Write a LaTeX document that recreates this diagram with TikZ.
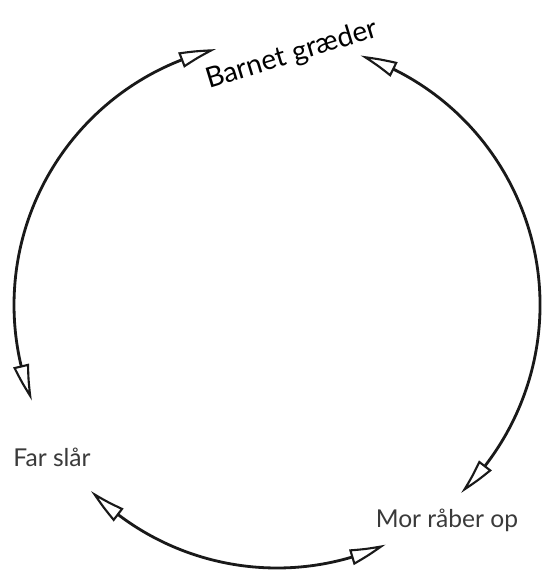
\documentclass[tikz,border=0pt]{standalone}
\usepackage{fontspec}
\setmainfont{Lato}
\usetikzlibrary{arrows.meta, bending}
\definecolor{tekst}{HTML}{3A3A3A}
\tikzset{
  pil/.style={<->, line width=1.6pt, black!90},
  etiket/.style={text=tekst, font=\fontsize{14}{16}\selectfont, inner sep=1pt}
}
\begin{document}
\begin{tikzpicture}[>={Triangle[open, length=21pt, width=9pt, line width=1.2pt, bend]}, scale=1.0]
  \useasboundingbox (-5.54,-5.44) rectangle (5.38,6.10);
  % Tekster
  \node[etiket, text=black, font=\fontsize{16}{18}\selectfont, rotate=17] (barn) at (0.30,5.00) {Barnet græder};
  \node[etiket] (far) at (-4.50,-3.04) {Far slår};
  \node[etiket] (mor) at (3.40,-4.30) {Mor råber op};
  % Punkter paa cirklen
  \coordinate (v1) at (103.4:5.26);
  \coordinate (h1) at (71.5:5.26);
  \coordinate (b1) at (225:5.26);
  % Buer
  \draw[pil] (v1) arc[start angle=103.4, end angle=201.3, radius=5.26];
  \draw[pil] (h1) arc[start angle=71.5, end angle=-45.6, radius=5.26];
  \draw[pil] (b1) arc[start angle=225, end angle=294.4, radius=5.26];
\end{tikzpicture}
\end{document}
